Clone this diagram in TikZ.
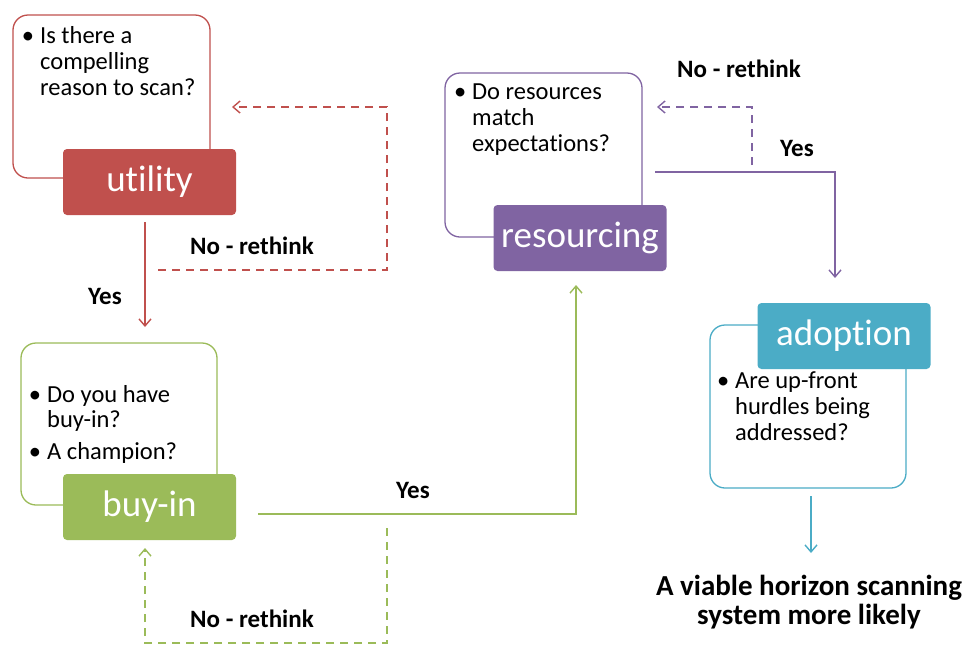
\documentclass[tikz,border=0pt]{standalone}
\usepackage{fontspec}
\setmainfont{Carlito}[Ligatures=NoCommon]
\usetikzlibrary{arrows.meta}
\definecolor{cred}{HTML}{C0504D}
\definecolor{cgreen}{HTML}{9BBB59}
\definecolor{cpurple}{HTML}{8064A2}
\definecolor{cteal}{HTML}{4BACC6}
\begin{document}
\begin{tikzpicture}[x=1pt,y=-1pt,
  outline/.style={draw=#1, line width=1.3pt, rounded corners=15pt, fill=white},
  titlebox/.style={fill=#1, rounded corners=4pt, minimum width=173pt, minimum height=66pt, inner sep=0pt, text=white, font=\fontsize{37}{40}\selectfont},
  bodytxt/.style={anchor=base west, inner sep=0pt, font=\fontsize{24.5}{26}\selectfont},
  lbl/.style={anchor=base, inner sep=0pt, font=\fontsize{25}{28}\selectfont\bfseries},
  conn/.style={draw=#1, line width=1.8pt},
  dconn/.style={draw=#1, line width=1.6pt, dash pattern=on 8pt off 6pt},
  tip/.style={-{Straight Barb[length=7pt,width=12pt,line width=1.4pt]}}
]
\useasboundingbox (0,0) rectangle (967,646);

% ---------- utility ----------
\draw[outline=cred] (13,15) rectangle (210,178);
\node[titlebox=cred] (utility) at (149.5,182) {utility};
\node[bodytxt] (u1) at (40,43) {\llap{•\hspace{6pt}}Is there a};
\node[bodytxt] (u2) at (40,69) {compelling};
\node[bodytxt] (u3) at (40,95) {reason to scan?};

% ---------- buy-in ----------
\draw[outline=cgreen] (21,343) rectangle (217,505);
\node[titlebox=cgreen] (buyin) at (149.5,507) {buy-in};
\node[bodytxt] (b1) at (47,402) {\llap{•\hspace{6pt}}Do you have};
\node[bodytxt] (b2) at (47,427) {buy-in?};
\node[bodytxt] (b3) at (47,459) {\llap{•\hspace{6pt}}A champion?};

% ---------- resourcing ----------
\draw[outline=cpurple] (445,73) rectangle (642,237);
\node[titlebox=cpurple] (resourcing) at (580,238) {resourcing};
\node[bodytxt] (r1) at (472,99) {\llap{•\hspace{6pt}}Do resources};
\node[bodytxt] (r2) at (472,125) {match};
\node[bodytxt] (r3) at (472,151) {expectations?};

% ---------- adoption ----------
\draw[outline=cteal] (710,325) rectangle (906,488);
\node[titlebox=cteal] (adoption) at (844,336) {adoption};
\node[bodytxt] (a1) at (735,388) {\llap{•\hspace{6pt}}Are up-front};
\node[bodytxt] (a2) at (735,414) {hurdles being};
\node[bodytxt] (a3) at (735,440) {addressed?};

% ---------- final text ----------
\node[anchor=base, inner sep=0pt, font=\fontsize{29}{30}\selectfont\bfseries] (final1) at (809,595) {A viable horizon scanning};
\node[anchor=base, inner sep=0pt, font=\fontsize{29}{30}\selectfont\bfseries] (final2) at (809,624) {system more likely};

% ---------- coordinates ----------
\coordinate (uS) at (145,222);
\coordinate (uE) at (145,327);
\coordinate (ud1) at (158,270);
\coordinate (ud2) at (387,270);
\coordinate (ud3) at (387,107);
\coordinate (ud4) at (232,107);

\coordinate (bY1) at (258,514);
\coordinate (bY2) at (576,514);
\coordinate (bY3) at (576,285);
\coordinate (bd1) at (387,528);
\coordinate (bd2) at (387,643);
\coordinate (bd3) at (145,643);
\coordinate (bd4) at (145,548);

\coordinate (rY1) at (655,172);
\coordinate (rY2) at (835,172);
\coordinate (rY3) at (835,278);
\coordinate (rd1) at (752,165);
\coordinate (rd2) at (752,107);
\coordinate (rd3) at (657,107);

\coordinate (aS) at (811,496);
\coordinate (aE) at (811,553);

% ---------- connectors ----------
\draw[conn=cred, tip] (uS) -- (uE);
\draw[dconn=cred, tip] (ud1) -- (ud2) -- (ud3) -- (ud4);
\node[lbl] (uyes) at (105,304) {Yes};
\node[lbl] (uno) at (252,254) {No - rethink};

\draw[conn=cgreen, tip] (bY1) -- (bY2) -- (bY3);
\draw[dconn=cgreen, tip] (bd1) -- (bd2) -- (bd3) -- (bd4);
\node[lbl] (byes) at (413,498) {Yes};
\node[lbl] (bno) at (252,627) {No - rethink};

\draw[conn=cpurple, tip] (rY1) -- (rY2) -- (rY3);
\draw[dconn=cpurple, tip] (rd1) -- (rd2) -- (rd3);
\node[lbl] (ryes) at (797,156) {Yes};
\node[lbl] (rno) at (739,77) {No - rethink};

\draw[conn=cteal, tip] (aS) -- (aE);
\end{tikzpicture}
\end{document}
